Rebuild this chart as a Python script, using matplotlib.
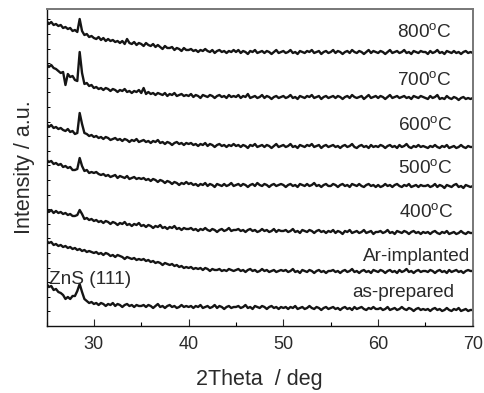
import numpy as np
import matplotlib
matplotlib.use('Agg')
import matplotlib.pyplot as plt
from matplotlib.ticker import MultipleLocator, FixedLocator

plt.rcParams['font.family'] = ['Liberation Sans', 'DejaVu Sans']
plt.rcParams['mathtext.fontset'] = 'custom'
plt.rcParams['mathtext.rm'] = 'Liberation Sans'

# 2Theta sampling (deg), 0.25 deg step from 25 to 70
two_theta = np.arange(25.0, 70.001, 0.25)

# Intensities (a.u., offset-stacked)
int_800 = [
    305,302,304,301,302,300,301,298,299,297,298,295,296,294,307,295,291,292,289,290,
    288,287,289,286,288,285,287,285,286,284,285,283,285,282,287,283,282,284,281,283,
    282,280,283,281,280,282,279,281,279,277,280,278,278,279,276,278,277,275,278,276,
    276,277,275,276,274,276,275,277,275,274,276,273,275,276,274,275,273,275,274,276,
    274,276,273,275,274,272,275,274,276,273,274,275,273,275,274,272,274,276,273,274,
    275,273,274,276,273,274,272,275,274,273,275,274,276,273,274,275,272,274,275,273,
    274,276,273,275,274,272,274,275,273,276,274,273,275,274,272,274,276,273,275,274,
    273,275,274,272,274,276,273,274,275,273,274,276,273,274,272,275,274,273,275,274,
    274,272,275,273,274,276,273,274,272,275,274,273,275,273,274,272,274,275,273,274,
    273]
int_700 = [
    262,259,261,258,257,255,253,254,241,252,249,250,246,245,274,253,242,243,240,241,
    238,239,237,238,236,238,237,235,237,236,234,236,235,237,234,235,233,235,234,236,
    233,238,232,234,232,233,231,233,232,231,233,230,232,231,233,230,231,232,230,231,
    230,232,229,231,230,228,231,230,229,231,230,228,230,231,229,230,228,231,229,230,
    229,231,228,230,229,232,228,229,230,228,229,231,228,230,229,227,229,230,228,229,
    230,228,229,231,228,229,227,230,229,228,230,229,231,228,229,230,227,229,230,228,
    229,230,228,230,229,227,229,230,228,231,229,228,229,230,227,229,231,228,229,230,
    228,230,229,227,229,231,228,229,230,228,229,230,228,229,227,230,229,228,230,229,
    228,227,230,228,229,231,227,228,227,230,228,227,229,228,226,228,229,227,228,227,
    228]
int_600 = [
    202,199,201,198,199,197,198,196,195,197,194,195,192,193,213,202,193,192,190,191,
    189,190,188,189,187,189,188,186,187,188,186,187,185,187,186,184,186,185,187,184,
    185,186,184,185,183,185,184,186,183,184,182,184,183,181,183,184,182,183,181,183,
    182,183,181,182,180,182,181,183,180,182,181,179,181,182,180,181,179,181,180,182,
    180,181,179,181,180,178,181,180,182,179,180,181,179,181,180,178,180,182,179,180,
    181,179,180,182,179,180,178,181,180,179,181,180,182,179,180,181,178,180,181,179,
    180,181,179,180,178,180,181,179,180,182,179,178,180,181,179,180,178,181,179,180,
    179,181,180,178,180,181,179,180,178,181,179,180,182,179,178,180,179,181,179,180,
    179,178,180,179,181,179,178,180,179,181,178,179,180,178,179,181,179,178,180,179,
    179]
int_500 = [
    166,164,165,162,163,161,162,159,160,158,159,156,156,157,168,160,155,156,153,154,
    153,154,152,151,152,150,151,149,150,151,148,150,149,148,150,147,148,149,147,148,
    147,148,146,147,145,147,146,144,146,145,143,145,144,142,144,143,141,143,142,144,
    142,143,141,142,140,142,141,143,140,142,141,139,142,141,140,142,140,141,143,140,
    141,142,140,142,141,139,141,142,140,143,141,140,142,141,139,141,142,140,141,142,
    141,139,141,142,140,141,139,142,141,140,142,140,141,143,140,141,139,141,142,140,
    140,142,141,139,141,142,140,141,139,142,141,140,142,140,139,141,142,140,141,139,
    141,139,140,142,140,141,139,141,142,140,139,141,140,142,139,140,141,139,141,140,
    140,141,139,140,142,139,141,140,138,141,140,139,141,142,139,140,138,141,140,139,
    140]
int_400 = [
    117,114,116,113,115,113,114,112,113,111,112,110,110,111,116,112,107,108,106,107,
    105,106,104,105,103,105,104,102,104,103,101,103,102,104,101,102,100,102,101,103,
    100,101,99,101,100,98,100,99,101,98,99,97,99,98,100,97,98,96,98,97,
    97,98,96,97,95,97,96,98,96,95,97,96,94,96,97,95,96,98,95,96,
    96,97,95,96,94,96,97,95,96,94,95,97,95,96,94,95,97,94,96,95,
    95,96,94,95,97,94,95,93,96,95,94,96,95,93,95,96,94,95,93,95,
    94,96,93,95,94,92,95,94,96,93,94,95,93,94,96,93,94,95,92,94,
    94,95,93,94,96,93,94,92,95,94,93,95,94,92,94,95,93,94,92,94,
    93,94,92,94,95,93,92,94,93,95,92,93,94,92,93,95,93,92,94,93,
    93]
int_ar = [
    85,83,84,81,82,80,81,79,80,78,79,77,78,76,77,75,76,74,75,74,
    73,74,72,73,71,73,72,70,71,69,71,70,69,67,69,68,67,68,66,67,
    66,67,65,66,64,65,63,64,63,61,63,62,61,62,60,61,59,60,58,59,
    58,59,57,58,57,58,56,58,57,55,57,56,56,57,55,56,55,57,56,55,
    56,57,55,56,54,56,57,55,56,54,55,57,55,56,54,55,56,54,55,56,
    55,56,54,55,57,54,55,53,56,55,54,56,55,53,55,56,54,55,53,55,
    55,56,54,55,53,55,56,54,55,57,54,55,53,55,56,54,55,53,56,55,
    54,56,55,53,55,56,54,55,53,56,54,55,57,54,55,53,55,56,54,55,
    55,54,56,55,53,55,56,54,55,53,56,54,55,56,54,55,53,55,56,55,
    55]
int_asprep = [
    42,39,40,36,37,34,33,31,27,29,27,30,30,35,42,34,27,25,23,24,
    22,23,21,23,22,20,22,21,23,20,22,21,19,21,22,20,21,19,21,20,
    20,21,19,21,20,18,20,22,19,20,18,20,21,19,20,18,19,21,19,20,
    19,20,18,20,19,21,18,19,20,18,19,21,18,20,19,17,19,20,18,19,
    19,20,18,19,21,18,19,17,20,19,18,20,19,17,19,20,18,19,17,19,
    18,19,17,19,18,20,17,18,19,17,18,20,18,17,19,18,16,18,19,17,
    18,19,17,18,16,18,19,17,18,16,19,17,18,19,17,16,18,17,19,17,
    17,18,16,17,19,16,17,18,16,17,19,17,16,18,17,15,17,18,16,17,
    16,17,15,17,18,16,17,15,16,18,16,15,17,16,18,15,16,17,15,16,
    16]

series = [int_800, int_700, int_600, int_500, int_400, int_ar, int_asprep]
labels = ['800$^{\\mathrm{o}}$C', '700$^{\\mathrm{o}}$C', '600$^{\\mathrm{o}}$C',
          '500$^{\\mathrm{o}}$C', '400$^{\\mathrm{o}}$C', 'Ar-implanted', 'as-prepared']
peak_label = 'ZnS (111)'
x_ticks = [30, 40, 50, 60, 70]

# label placement (layout)
label_x = [67.8, 67.8, 67.9, 67.9, 68.0, 69.75, 68.0]
label_y = [293, 245, 200, 157, 113, 69, 33]

for s in series:
    assert len(s) == len(two_theta), len(s)

fig = plt.figure(figsize=(4.84, 3.93), dpi=100)
ax = fig.add_axes([0.0961, 0.1705, 0.8809, 0.8066])

for s in series:
    ax.plot(two_theta, s, color='#151515', lw=1.7)

for t, lx, ly in zip(labels, label_x, label_y):
    ax.text(lx, ly, t, ha='right', va='center', fontsize=13.7, color='#2a2a2a')
ax.text(25.25, 46, peak_label, ha='left', va='center', fontsize=13.7, color='#2a2a2a')

ax.set_xlim(25, 70)
ax.set_ylim(0, 317)
ax.xaxis.set_major_locator(FixedLocator(x_ticks))
ax.xaxis.set_minor_locator(MultipleLocator(5))
ax.yaxis.set_major_locator(FixedLocator(np.arange(0, 317, 14.6)))
ax.set_yticklabels([])
ax.tick_params(axis='x', which='major', direction='in', length=5, width=0.8,
               labelsize=13, pad=7, colors='#2a2a2a')
ax.tick_params(axis='x', which='minor', direction='in', length=3, width=0.8)
ax.tick_params(axis='y', which='major', direction='in', length=2.5, width=0.7, left=True)

for side in ['top', 'right']:
    ax.spines[side].set_color('#777777')
    ax.spines[side].set_linewidth(1.4)
for side in ['left', 'bottom']:
    ax.spines[side].set_color('#111111')
    ax.spines[side].set_linewidth(1.0)

ax.set_xlabel('2Theta  / deg', fontsize=15.5, color='#2a2a2a', labelpad=12)
ax.set_ylabel('Intensity / a.u.', fontsize=15.5, color='#2a2a2a', labelpad=5)

fig.savefig('out.png', dpi=100)
